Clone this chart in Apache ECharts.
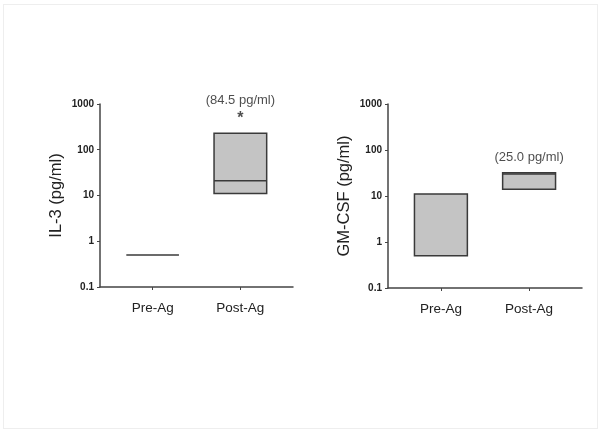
<!DOCTYPE html>
<html>
<head>
<meta charset="utf-8">
<script src="https://cdn.jsdelivr.net/npm/echarts@6/dist/echarts.min.js"></script>
<style>
html,body{margin:0;padding:0;background:#fff;}
#frame{position:absolute;left:3px;top:4px;width:595px;height:425px;border:1px solid #eeeeee;box-sizing:border-box;}
#c{width:604px;height:434px;position:absolute;left:0;top:0;}
</style>
</head>
<body>
<div id="frame"></div>
<div id="c"></div>
<script>
// Data
var categories = ['Pre-Ag', 'Post-Ag'];
var yTicks = [0.1, 1, 10, 100, 1000];
// IL-3: [low, median, high]
var il3Low = [0.5, 11];
var il3Median = [0.5, 21];
var il3High = [0.5, 230];
var il3Note = '(84.5 pg/ml)';
var il3Star = '*';
// GM-CSF: [low, median, high]
var gmLow = [0.5, 14];
var gmMedian = [null, 30];
var gmHigh = [11, 32];
var gmNote = '(25.0 pg/ml)';

var chart = echarts.init(document.getElementById('c'));

function boxData(low, med, high) {
  return categories.map(function (c, i) { return [i, low[i], med[i], high[i]]; });
}

function renderBox(params, api) {
  var x = api.value(0);
  var lo = api.value(1), md = api.value(2), hi = api.value(3);
  var w = api.size([0.6, 0])[0];
  var pLo = api.coord([x, lo]);
  var pHi = api.coord([x, hi]);
  var children = [];
  var stroke = '#3a3a3a';
  if (hi > lo) {
    children.push({
      type: 'rect',
      shape: { x: pLo[0] - w / 2, y: pHi[1], width: w, height: pLo[1] - pHi[1] },
      style: { fill: '#c4c4c4', stroke: stroke, lineWidth: 1.5 }
    });
  }
  if (md != null && !isNaN(md)) {
    var pMd = api.coord([x, md]);
    children.push({
      type: 'line',
      shape: { x1: pMd[0] - w / 2, y1: pMd[1], x2: pMd[0] + w / 2, y2: pMd[1] },
      style: { stroke: stroke, lineWidth: 1.5 }
    });
  }
  return { type: 'group', children: children };
}

function xAxis(gi) {
  return {
    type: 'value', gridIndex: gi, min: -0.6, max: 1.6,
    splitLine: { show: false },
    axisLine: { show: true, onZero: false, lineStyle: { color: '#444', width: 1.5 } },
    axisTick: { show: true, customValues: [0, 1], length: 3, inside: false, lineStyle: { color: '#444' } },
    axisLabel: {
      customValues: [0, 1], margin: 14,
      formatter: function (v) { return categories[Math.round(v)]; },
      color: '#222', fontFamily: 'Liberation Sans, Arial, sans-serif', fontSize: 13.5
    }
  };
}

function yAxis(gi, name) {
  return {
    type: 'log', gridIndex: gi, logBase: 10, min: 0.1, max: 1000,
    name: name, nameLocation: 'middle', nameGap: 35, nameRotate: 90,
    nameTextStyle: { color: '#222', fontFamily: 'Liberation Sans, Arial, sans-serif', fontSize: 16.5 },
    splitLine: { show: false },
    axisLine: { show: true, onZero: false, lineStyle: { color: '#444', width: 1.5 } },
    axisTick: { show: true, length: 3, lineStyle: { color: '#444' } },
    axisLabel: {
      color: '#222', fontFamily: 'Liberation Sans, Arial, sans-serif', fontSize: 10, fontWeight: 'bold', margin: 6,
      formatter: function (v) { return String(v); }
    }
  };
}

var option = {
  animation: false,
  backgroundColor: 'transparent',
  grid: [
    { left: 100, right: 311, top: 104, bottom: 147 },
    { left: 388, right: 22, top: 104, bottom: 146 }
  ],
  xAxis: [xAxis(0), xAxis(1)],
  yAxis: [yAxis(0, 'IL-3 (pg/ml)'), yAxis(1, 'GM-CSF (pg/ml)')],
  series: [
    {
      type: 'custom', xAxisIndex: 0, yAxisIndex: 0,
      renderItem: renderBox, data: boxData(il3Low, il3Median, il3High),
      encode: { x: 0, y: [1, 2, 3] }
    },
    {
      type: 'custom', xAxisIndex: 1, yAxisIndex: 1,
      renderItem: renderBox, data: boxData(gmLow, gmMedian, gmHigh),
      encode: { x: 0, y: [1, 2, 3] }
    },
    {
      type: 'scatter', xAxisIndex: 0, yAxisIndex: 0, symbolSize: 0,
      data: [[1, il3High[1]]],
      label: {
        show: true, position: 'top', distance: 10,
        formatter: il3Note + '\n{s|' + il3Star + '}',
        color: '#222', fontFamily: 'Liberation Sans, Arial, sans-serif', fontSize: 13, lineHeight: 17,
        rich: { s: { fontSize: 16, fontWeight: 'bold', color: '#222', lineHeight: 14, padding: [4, 0, 0, 0] } }
      }
    },
    {
      type: 'scatter', xAxisIndex: 1, yAxisIndex: 1, symbolSize: 0,
      data: [[1, gmHigh[1]]],
      label: {
        show: true, position: 'top', distance: 9,
        formatter: gmNote,
        color: '#222', fontFamily: 'Liberation Sans, Arial, sans-serif', fontSize: 13
      }
    }
  ]
};
chart.setOption(option);
</script>
</body>
</html>
